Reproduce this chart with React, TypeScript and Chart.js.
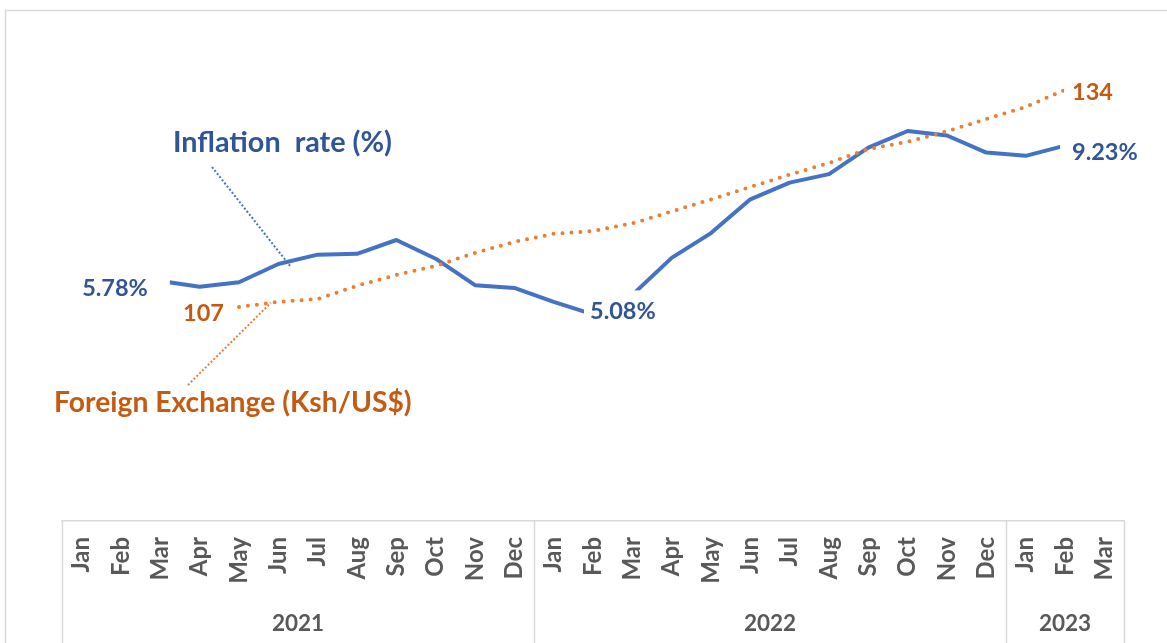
import React, { useEffect, useRef } from "react";
import { Chart, registerables } from "chart.js";

Chart.register(...registerables);

// ---------------- data ----------------
const monthLabels = [
  "Jan", "Feb", "Mar", "Apr", "May", "Jun", "Jul", "Aug", "Sep", "Oct", "Nov", "Dec",
  "Jan", "Feb", "Mar", "Apr", "May", "Jun", "Jul", "Aug", "Sep", "Oct", "Nov", "Dec",
  "Jan", "Feb", "Mar",
];
const yearLabels = ["2021", "2022", "2023"];
const monthsPerYear = [12, 12, 3];

const inflationRate = [
  null, 5.78, 5.9, 5.76, 5.87, 6.32, 6.55, 6.57, 6.91, 6.45, 5.8, 5.73,
  5.39, 5.08, 5.56, 6.47, 7.08, 7.91, 8.32, 8.53, 9.18, 9.59, 9.48, 9.06,
  8.98, 9.23, null,
];
const forexRate = [
  null, null, null, null, 106.75, 107.4, 107.75, 109.4, 110.75, 111.9, 113.5, 114.9,
  115.9, 116.25, 117.2, 118.7, 120.2, 121.75, 123.3, 124.75, 126.5, 127.4, 128.7, 130.25,
  131.75, 133.9, null,
];

const inflationLabelIndex = [1, 13, 25];
const forexLabelIndex = [4, 25];

const inflationTitle = "Inflation  rate (%)";
const forexTitle = "Foreign Exchange (Ksh/US$)";

// ---------------- styles ----------------
const FONT = "Lato, 'Open Sans', sans-serif";
const CAP = 0.72;
const BLUE = "#4472C4";
const BLUE_TEXT = "#2F5597";
const ORANGE = "#ED7D31";
const ORANGE_TEXT = "#C55A11";
const AXIS_TEXT = "#595959";
const FRAME = "#D9D9D9";

const inflLabelStyle = [
  { align: "center", dx: -6, dy: 2, padL: 8, padR: 22 },
  { align: "left", dx: -3, dy: -4, padL: 6, padR: 4 },
  { align: "left", dx: 7, dy: 6, padL: 12, padR: 4 },
];
const forexLabelStyle = [
  { align: "right", dx: -15, dy: 6, padL: 4, padR: 4 },
  { align: "left", dx: 7, dy: 2, padL: 8, padR: 4 },
];

function interp(arr: (number | null)[], idx: number): number {
  const i = Math.floor(idx);
  const f = idx - i;
  const a = arr[i] as number;
  const b = (arr[i + 1] ?? a) as number;
  return a + (b - a) * f;
}

function drawLabel(
  ctx: CanvasRenderingContext2D,
  text: string,
  px: number,
  py: number,
  st: any,
  size: number,
  color: string
) {
  ctx.save();
  ctx.font = `bold ${size}px ${FONT}`;
  const w = ctx.measureText(text).width;
  const cx = px + st.dx;
  const cy = py + st.dy;
  let left = cx;
  if (st.align === "center") left = cx - w / 2;
  else if (st.align === "right") left = cx - w;
  ctx.fillStyle = "#ffffff";
  ctx.fillRect(left - st.padL, cy - 20, w + st.padL + st.padR, 38);
  ctx.fillStyle = color;
  ctx.textAlign = "left";
  ctx.textBaseline = "alphabetic";
  ctx.fillText(text, left, cy + (size * CAP) / 2);
  ctx.restore();
}

function drawText(
  ctx: CanvasRenderingContext2D,
  text: string,
  x: number,
  cy: number,
  size: number,
  color: string,
  align: CanvasTextAlign
) {
  ctx.save();
  ctx.font = `bold ${size}px ${FONT}`;
  ctx.fillStyle = color;
  ctx.textAlign = align;
  ctx.textBaseline = "alphabetic";
  ctx.fillText(text, x, cy + (size * CAP) / 2);
  ctx.restore();
}

function drawLeader(
  ctx: CanvasRenderingContext2D,
  x1: number,
  y1: number,
  x2: number,
  y2: number,
  color: string
) {
  ctx.save();
  ctx.strokeStyle = color;
  ctx.lineWidth = 2;
  ctx.setLineDash([2, 2]);
  ctx.beginPath();
  ctx.moveTo(x1, y1);
  ctx.lineTo(x2, y2);
  ctx.stroke();
  ctx.restore();
}

const decorPlugin = {
  id: "decor",
  beforeDraw(chart: any) {
    const { ctx, width, height } = chart;
    ctx.save();
    ctx.fillStyle = "#ffffff";
    ctx.fillRect(0, 0, width, height);
    ctx.strokeStyle = FRAME;
    ctx.lineWidth = 1.5;
    ctx.strokeRect(5.5, 10.5, width + 20, height + 20);
    ctx.restore();
  },
  afterDatasetsDraw(chart: any) {
    const { ctx } = chart;
    const xs = chart.scales.x;
    const ys = chart.scales.y;
    const y1 = chart.scales.y1;

    // data labels
    inflationLabelIndex.forEach((idx, k) => {
      const v = inflationRate[idx] as number;
      drawLabel(ctx, `${v.toFixed(2)}%`, xs.getPixelForValue(idx), ys.getPixelForValue(v), inflLabelStyle[k], 23.5, BLUE_TEXT);
    });
    forexLabelIndex.forEach((idx, k) => {
      const v = forexRate[idx] as number;
      drawLabel(ctx, `${Math.round(v)}`, xs.getPixelForValue(idx), y1.getPixelForValue(v), forexLabelStyle[k], 23.5, ORANGE_TEXT);
    });

    // series annotations with leader lines
    const bIdx = 5.32;
    drawLeader(ctx, 212, 167, xs.getPixelForValue(bIdx), ys.getPixelForValue(interp(inflationRate, bIdx)) + 6, BLUE);
    drawText(ctx, inflationTitle, 173, 142, 28.8, BLUE_TEXT, "left");

    const oIdx = 4.81;
    drawLeader(ctx, 188, 385, xs.getPixelForValue(oIdx), y1.getPixelForValue(interp(forexRate, oIdx)), ORANGE);
    drawText(ctx, forexTitle, 54, 402, 28.3, ORANGE_TEXT, "left");
  },
  afterDraw(chart: any) {
    const { ctx, height, chartArea } = chart;
    const xs = chart.scales.x;
    const top = chartArea.bottom;
    ctx.save();
    ctx.strokeStyle = FRAME;
    ctx.lineWidth = 1.5;
    let start = 0;
    const bounds = [0];
    monthsPerYear.forEach((n) => {
      start += n;
      bounds.push(start);
    });
    bounds.forEach((b) => {
      const x = Math.round(xs.getPixelForValue(b - 0.5)) + 0.5;
      ctx.beginPath();
      ctx.moveTo(x, top);
      ctx.lineTo(x, height + 2);
      ctx.stroke();
    });
    ctx.restore();
    yearLabels.forEach((yl, i) => {
      const a = xs.getPixelForValue(bounds[i] - 0.5);
      const b = xs.getPixelForValue(bounds[i + 1] - 0.5);
      drawText(ctx, yl, (a + b) / 2, 623, 22.5, AXIS_TEXT, "center");
    });
  },
};

export default function App() {
  const ref = useRef<HTMLCanvasElement | null>(null);

  useEffect(() => {
    if (!ref.current) return;
    const chart = new Chart(ref.current, {
      type: "line",
      data: {
        labels: monthLabels,
        datasets: [
          {
            label: "Foreign Exchange (Ksh/US$)",
            data: forexRate,
            yAxisID: "y1",
            borderColor: ORANGE,
            borderWidth: 4,
            borderDash: [0, 9],
            borderCapStyle: "round",
            pointRadius: 0,
            tension: 0,
            fill: false,
          },
          {
            label: "Inflation rate (%)",
            data: inflationRate,
            yAxisID: "y",
            borderColor: BLUE,
            borderWidth: 4,
            borderJoinStyle: "round",
            pointRadius: 0,
            tension: 0,
            fill: false,
          },
        ],
      },
      options: {
        animation: false,
        responsive: false,
        maintainAspectRatio: false,
        devicePixelRatio: 1,
        layout: { padding: { top: 33, left: 62, right: 43, bottom: 0 } },
        plugins: {
          legend: { display: false },
          tooltip: { enabled: false },
          title: { display: false },
        },
        scales: {
          x: {
            type: "category",
            offset: true,
            grid: { display: false, drawTicks: false },
            border: { display: true, color: FRAME, width: 1.5 },
            ticks: {
              autoSkip: false,
              minRotation: 90,
              maxRotation: 90,
              padding: 16,
              color: AXIS_TEXT,
              font: { family: FONT, size: 24, weight: "bold" },
            },
            afterFit: (s: any) => {
              s.height = 122;
            },
          },
          y: { display: false, min: 0, max: 12 },
          y1: { display: false, min: 80, max: 141 },
        },
      } as any,
      plugins: [decorPlugin],
    });
    return () => chart.destroy();
  }, []);

  return (
    <div style={{ position: "fixed", left: 0, top: 0, width: 1167, height: 643, background: "#fff" }}>
      <canvas ref={ref} width={1167} height={643} style={{ display: "block", width: 1167, height: 643 }} />
    </div>
  );
}
